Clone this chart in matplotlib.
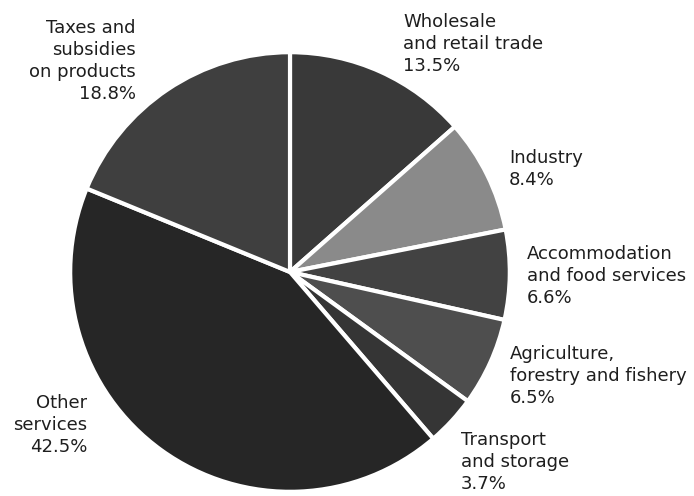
import matplotlib
matplotlib.use("Agg")
import matplotlib.pyplot as plt

categories = ["Wholesale\nand retail trade", "Industry", "Accommodation\nand food services",
              "Agriculture,\nforestry and fishery", "Transport\nand storage",
              "Other\nservices", "Taxes and\nsubsidies\non products"]
shares = [13.5, 8.4, 6.6, 6.5, 3.7, 42.5, 18.8]
colors = ["#393939", "#8a8a8a", "#424242", "#4e4e4e", "#353535", "#262626", "#3f3f3f"]

# label anchor positions in figure pixels (x, y of first baseline from top) and alignment
label_pos = [(403, 27, "left"), (509, 163, "left"), (527, 259, "left"),
             (510, 359, "left"), (461, 445, "left"), (87, 408, "right"),
             (136, 33, "right")]

W, H = 694, 496
fig = plt.figure(figsize=(W / 100, H / 100), dpi=100)
cx, cy, r = 290, 272, 222
ax = fig.add_axes([(cx - r) / W, (H - cy - r) / H, 2 * r / W, 2 * r / H])
ax.pie(shares, colors=colors, startangle=90, counterclock=False, radius=1,
       wedgeprops=dict(edgecolor="white", linewidth=3))
ax.set_xlim(-1.01, 1.01)
ax.set_ylim(-1.01, 1.01)
ax.set_aspect("equal")
ax.axis("off")

for cat, val, (x, y, ha) in zip(categories, shares, label_pos):
    lines = f"{cat}\n{val}%".split("\n")
    for i, ln in enumerate(lines):
        fig.text(x / W, 1 - (y + i * 22) / H, ln, ha=ha, va="baseline",
                 fontsize=13.0, family="DejaVu Sans", color="#1e1e1e")

fig.savefig("out.png", dpi=100, facecolor="white")
